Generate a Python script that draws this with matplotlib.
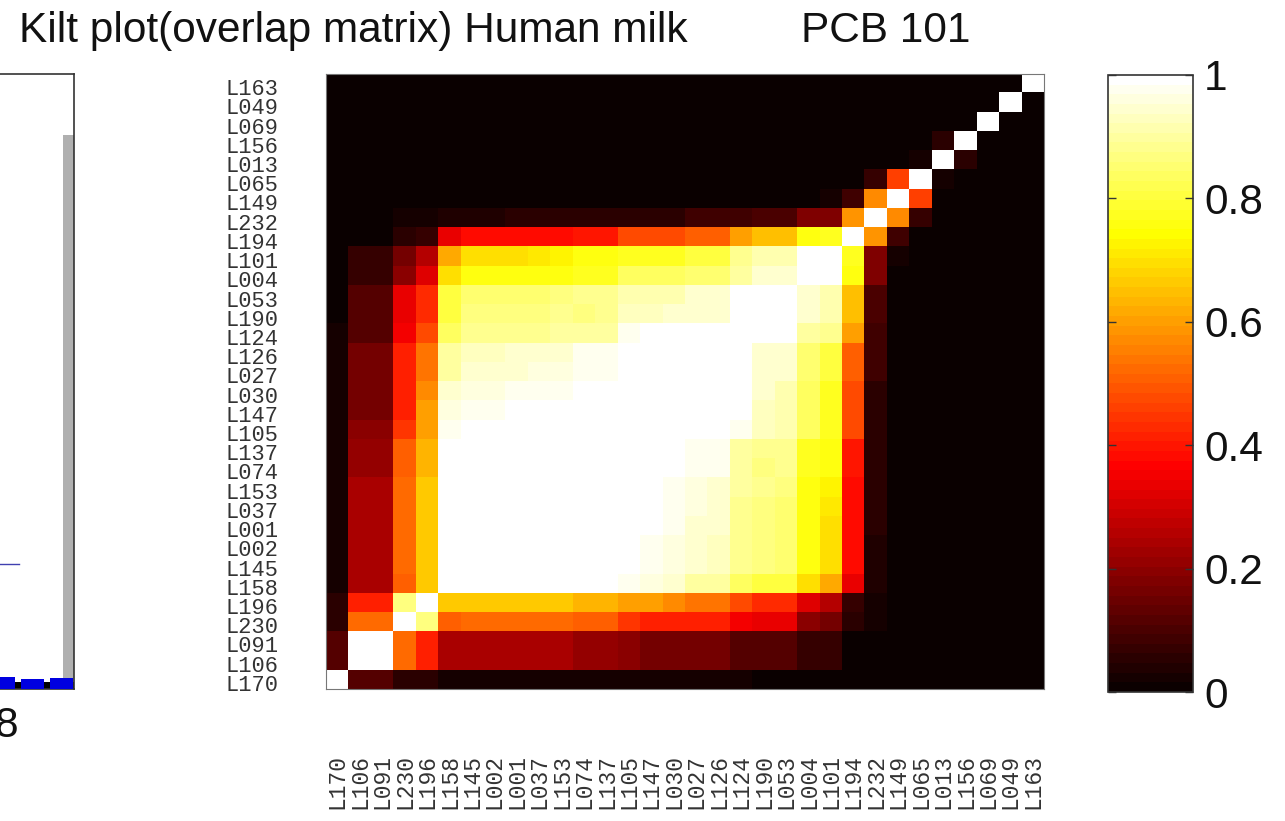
import numpy as np
from matplotlib import pyplot as plt
from matplotlib.transforms import ScaledTranslation
from matplotlib.cm import ScalarMappable
from matplotlib.colors import Normalize

W, H = 1285, 821

labels = ['L170', 'L106', 'L091', 'L230', 'L196', 'L158', 'L145', 'L002', 'L001', 'L037', 'L153',
          'L074', 'L137', 'L105', 'L147', 'L030', 'L027', 'L126', 'L124', 'L190', 'L053', 'L004',
          'L101', 'L194', 'L232', 'L149', 'L065', 'L013', 'L156', 'L069', 'L049', 'L163']

# upper triangle, every row starts on the diagonal, anything not listed is 0
upper = [
    [1, .12, .12, .05, .05, .03, .03, .03, .03, .03, .03, .03, .03, .02, .02, .02, .02, .02, .02, .01, .01, .01, .01],
    [1, 1, .52, .42, .24, .24, .24, .24, .24, .24, .21, .21, .19, .17, .17, .17, .17, .12, .12, .12, .07, .07, .01],
    [1, .52, .42, .24, .24, .24, .24, .24, .24, .21, .21, .19, .17, .17, .17, .17, .12, .12, .12, .07, .07, .01],
    [1, .87, .5, .52, .52, .52, .52, .52, .5, .5, .44, .41, .41, .41, .41, .35, .33, .33, .2, .17, .05, .02],
    [1, .66, .66, .66, .66, .66, .66, .64, .64, .6, .6, .57, .54, .54, .48, .43, .43, .32, .25, .07, .02],
    [1, 1, 1, 1, 1, 1, 1, .99, .97, .96, .94, .9, .9, .84, .8, .8, .7, .62, .33, .04],
    [1, 1, 1, 1, 1, 1, 1, 1, .98, .96, .94, .93, .88, .86, .85, .76, .7, .38, .04],
    [1, 1, 1, 1, 1, 1, 1, .98, .96, .94, .93, .88, .86, .85, .76, .7, .38, .04],
    [1, 1, 1, 1, 1, 1, .99, .97, .95, .94, .88, .86, .85, .76, .7, .38, .05],
    [1, 1, 1, 1, 1, 1, .97, .96, .95, .89, .86, .85, .76, .71, .38, .05],
    [1, 1, 1, 1, 1, .97, .96, .95, .9, .88, .86, .76, .72, .38, .05],
    [1, 1, 1, 1, 1, .98, .97, .9, .87, .88, .78, .75, .4, .05],
    [1, 1, 1, 1, .98, .97, .9, .88, .88, .78, .75, .4, .05],
    [1, 1, 1, 1, 1, .98, .93, .92, .83, .77, .48, .06],
    [1, 1, 1, 1, 1, .93, .92, .83, .77, .48, .06],
    [1, 1, 1, 1, .94, .92, .83, .77, .48, .06],
    [1, 1, 1, .95, .95, .85, .8, .51, .08],
    [1, 1, .95, .95, .85, .8, .51, .08],
    [1, 1, .99, .9, .88, .6, .09],
    [1, 1, .95, .92, .65, .1],
    [1, .94, .92, .65, .1],
    [1, .99, .75, .18, .01],
    [1, .78, .18, .02],
    [1, .58, .09],
    [1, .57, .07],
    [1, .46],
    [1, .02],
    [1, .06],
    [1],
    [1],
    [1],
    [1],
]

# the panel cut off on the left
bar_x = [8, 9, 10]
bar_h = [.02, .017, .018]
gray_x = 10.24
gray_h = .9
line_y = .203
line_end = 8.53

cbar_ticks = [0, .2, .4, .6, .8, 1]
cbar_ticklabels = ['0', '0.2', '0.4', '0.6', '0.8', '1']

n = len(labels)
m = np.zeros((n, n))
for i, row in enumerate(upper):
    for k, v in enumerate(row):
        m[i, i + k] = v
        m[i + k, i] = v


def box(x0, y0, x1, y1):
    # pixels, y from the top
    return [x0 / W, 1 - y1 / H, (x1 - x0) / W, (y1 - y0) / H]


plt.rcParams['font.family'] = ['Liberation Sans', 'DejaVu Sans']
fig = plt.figure(figsize=(W / 100, H / 100), dpi=100, facecolor='white')
edge = '#333333'
cmap = plt.get_cmap('hot', 64)

# left panel, only its right end is on the page
axl = fig.add_axes(box(-112, 74, 74, 689))
axl.bar(gray_x, gray_h, width=.38, color='#b0b0b0', zorder=1)
axl.bar(bar_x, [.012] * 3, width=1, color='black', zorder=2)
axl.bar(bar_x, bar_h, width=.8, color='#0000e0', zorder=3)
axl.plot([4, line_end], [line_y, line_y], color='#4040b0', lw=1)
axl.set_xlim(4, 10.43)
axl.set_ylim(0, 1)
axl.set_xticks([8])
axl.set_yticks([])
axl.tick_params(axis='x', length=0, labelsize=30.5, pad=12, colors='#111111')
shift_x = ScaledTranslation(2.5 / 100, 0, fig.dpi_scale_trans)
for t in axl.get_xticklabels():
    t.set_transform(t.get_transform() + shift_x)
for s in axl.spines.values():
    s.set_color(edge)
    s.set_linewidth(1.2)

# kilt plot
ax = fig.add_axes(box(326, 74, 1044, 689))
ax.imshow(m, cmap=cmap, vmin=0, vmax=1, origin='lower', aspect='auto', interpolation='nearest')
ax.set_xticks(range(n))
ax.set_yticks(range(n))
ax.set_xticklabels(labels, rotation=90, family='Liberation Mono', fontsize=16.5, color='#333333')
ax.set_yticklabels(labels, family='Liberation Mono', fontsize=15.8, color='#333333')
ax.tick_params(axis='x', length=0, pad=47)
ax.tick_params(axis='y', length=0, pad=34)
shift = ScaledTranslation(0, -3.5 / 100, fig.dpi_scale_trans)
for t in ax.get_yticklabels():
    t.set_transform(t.get_transform() + shift)
for s in ax.spines.values():
    s.set_color('#777777')
    s.set_linewidth(.8)

# colorbar
cax = fig.add_axes(box(1108, 75, 1193, 692))
cb = fig.colorbar(ScalarMappable(Normalize(0, 1), cmap), cax=cax, ticks=cbar_ticks)
cb.ax.set_yticklabels(cbar_ticklabels)
cb.ax.tick_params(direction='in', left=True, right=True, length=6, width=1, color=edge,
                  labelsize=30.5, pad=8, labelcolor='#111111')
cb.outline.set_edgecolor(edge)
cb.outline.set_linewidth(1.2)

fig.text(19 / W, 1 - 42 / H, 'Kilt plot(overlap matrix) Human milk', fontsize=30.5, color='#111111')
fig.text(801 / W, 1 - 42 / H, 'PCB 101', fontsize=30.5, color='#111111')

fig.savefig('out.png', dpi=100)
